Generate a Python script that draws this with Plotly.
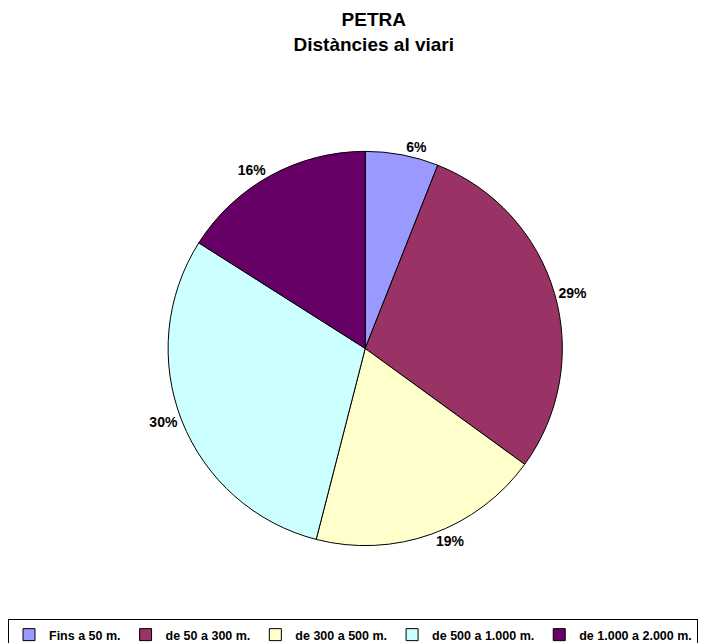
import plotly.graph_objects as go

categories = ["Fins a 50 m.", "de 50 a 300 m.", "de 300 a 500 m.", "de 500 a 1.000 m.", "de 1.000 a 2.000 m."]
values = [6, 29, 19, 30, 16]
colors = ["#9999FF", "#993366", "#FFFFCC", "#CCFFFF", "#660066"]

FONT = "Liberation Sans, Arial, sans-serif"

fig = go.Figure(go.Pie(
    labels=categories,
    values=values,
    sort=False,
    direction="clockwise",
    rotation=0,
    marker=dict(colors=colors, line=dict(color="black", width=1)),
    texttemplate="%{percent:.0%}",
    textposition="outside",
    outsidetextfont=dict(family=FONT, size=14, color="black", weight="bold"),
    domain=dict(x=[0.222, 0.780], y=[0.160, 0.776]),
    hoverinfo="label+percent",
))

fig.update_layout(
    width=713, height=643,
    margin=dict(l=0, r=0, t=0, b=0),
    paper_bgcolor="white",
    title=dict(
        text="<b>PETRA<br>Distàncies al viari</b>",
        x=0.513, xanchor="center", y=0.972, yanchor="top",
        font=dict(family=FONT, size=19, color="black"),
    ),
    legend=dict(
        orientation="h",
        x=0.0, xanchor="left",
        y=0.045, yanchor="top",
        bordercolor="black", borderwidth=1,
        font=dict(family=FONT, size=12.5, color="black", weight="bold"),
        traceorder="normal",
        itemwidth=30,
    ),
    showlegend=True,
)

fig.write_html("out.html")
